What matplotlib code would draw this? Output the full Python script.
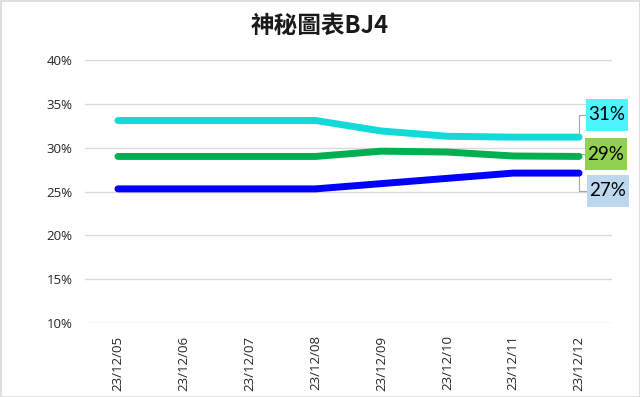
import matplotlib
matplotlib.use("Agg")
import matplotlib.pyplot as plt
from matplotlib.patches import Rectangle

categories = ["23/12/05", "23/12/06", "23/12/07", "23/12/08",
              "23/12/09", "23/12/10", "23/12/11", "23/12/12"]
series_cyan = [33.1, 33.1, 33.1, 33.1, 31.9, 31.3, 31.2, 31.2]
series_green = [29.0, 29.0, 29.0, 29.0, 29.6, 29.5, 29.05, 29.0]
series_blue = [25.3, 25.3, 25.3, 25.3, 25.9, 26.5, 27.1, 27.1]
end_labels = ["31%", "29%", "27%"]
title = "神秘圖表BJ4"
yticks = [10, 15, 20, 25, 30, 35, 40]

plt.rcParams['font.family'] = ['Open Sans', 'Noto Sans CJK TC', 'DejaVu Sans']

W, H = 640, 397
fig = plt.figure(figsize=(6.4, 3.97), dpi=100)
ax = fig.add_axes([85/W, 1-323/H, 527/W, 263/H])

x = list(range(len(categories)))
# (values, line colour, box colour, box left px, box top px)
line_specs = [(series_cyan, "#14D9D9", "#4DF3FF", 586, 99),
              (series_green, "#00B050", "#92D050", 585, 138),
              (series_blue, "#0000FF", "#BDD7EE", 587, 175)]
bw, bh = 42, 32
for (vals, col, boxcol, bx, by), lab in zip(line_specs, end_labels):
    ax.plot(x, vals, color=col, lw=5, solid_capstyle='round', solid_joinstyle='round', zorder=3)
    yc = H - (by + bh / 2)
    ax.annotate('', xy=(x[-1], vals[-1]), xycoords='data',
                xytext=(bx, yc), textcoords='figure pixels',
                arrowprops=dict(arrowstyle='-', color='#A6A6A6', lw=0.8,
                                shrinkA=0, shrinkB=0,
                                connectionstyle='angle,angleA=180,angleB=90,rad=0'),
                zorder=2, annotation_clip=False)
    fig.patches.append(Rectangle((bx / W, (H - by - bh) / H), bw / W, bh / H,
                                 transform=fig.transFigure, fc=boxcol, ec='none', zorder=4))
    fig.text((bx + bw / 2) / W, yc / H, lab, ha='center', va='center', fontsize=13.5,
             color='black', family=['Lato', 'DejaVu Sans'], zorder=5)

ax.set_xlim(-0.5, len(categories) - 0.5)
ax.set_ylim(10, 40)
ax.set_yticks(yticks)
ax.set_yticklabels([f"{v}%" for v in yticks], fontsize=9.5, color='#262626')
ax.set_xticks(x)
ax.set_xticklabels(categories, rotation=90, fontsize=9.5, color='#262626')
ax.yaxis.grid(True, color='#D9D9D9', lw=1)
ax.set_axisbelow(True)
for s in ax.spines.values():
    s.set_visible(False)
ax.tick_params(length=0, pad=9)
ax.tick_params(axis='x', pad=9)

fig.text(0.5, 1-26/H, title, ha='center', va='center', fontsize=17, fontweight='bold',
         family=['Noto Sans CJK TC', 'DejaVu Sans'], color='#1a1a1a')

fig.patches.append(Rectangle((0.5/W, 0.5/H), 1-1/W, 1-1/H, transform=fig.transFigure,
                             fill=False, ec='#D9D9D9', lw=1.2))

fig.savefig("out.png", dpi=100)
